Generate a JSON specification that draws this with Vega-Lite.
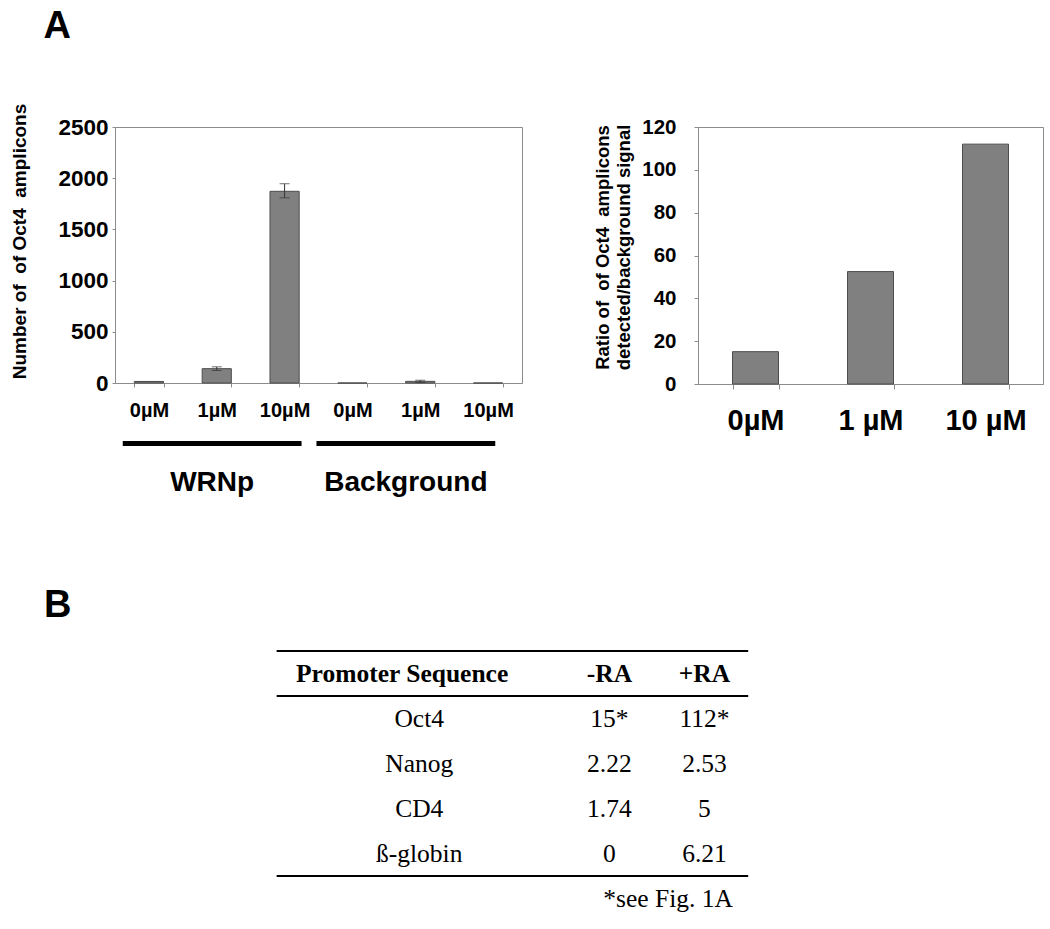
{
  "$schema": "https://vega.github.io/schema/vega-lite/v6.json",
  "background": "white",
  "padding": {"left": 10, "top": 7, "right": 5, "bottom": 5},
  "bounds": "flush",
  "spacing": 524,
  "config": {
    "font": "Liberation Sans",
    "view": {"stroke": "#8c8c8c", "strokeWidth": 1},
    "axis": {
      "labelColor": "black",
      "labelFontWeight": "bold",
      "labelFont": "Liberation Sans",
      "titleColor": "black",
      "titleFontWeight": "bold",
      "titleFont": "Liberation Sans",
      "domainColor": "#8c8c8c",
      "tickColor": "#8c8c8c",
      "grid": false
    }
  },
  "datasets": {
    "amplicons": [
      {"cond": "WRNp|0µM", "group": "WRNp", "dose": "0µM", "value": 15},
      {"cond": "WRNp|1µM", "group": "WRNp", "dose": "1µM", "value": 140, "lo": 122, "hi": 158},
      {"cond": "WRNp|10µM", "group": "WRNp", "dose": "10µM", "value": 1872, "lo": 1808, "hi": 1946},
      {"cond": "Background|0µM", "group": "Background", "dose": "0µM", "value": 0},
      {"cond": "Background|1µM", "group": "Background", "dose": "1µM", "value": 16, "lo": 6, "hi": 27},
      {"cond": "Background|10µM", "group": "Background", "dose": "10µM", "value": 0}
    ],
    "groups": [{"group": "WRNp"}, {"group": "Background"}],
    "ratio": [
      {"dose": "0µM", "ratio": 15.1},
      {"dose": "1 µM", "ratio": 52.5},
      {"dose": "10 µM", "ratio": 112}
    ],
    "table_rules_top": [{"row": "header"}, {"row": "Oct4"}],
    "table_rules_bottom": [{"row": "ß-globin"}],
    "table_header_first": [{"row": "header", "col": "Promoter Sequence", "text": "Promoter Sequence"}],
    "table_header": [
      {"row": "header", "col": "-RA", "text": "-RA"},
      {"row": "header", "col": "+RA", "text": "+RA"}
    ],
    "table_body": [
      {"row": "Oct4", "col": "Promoter Sequence", "text": "Oct4"},
      {"row": "Oct4", "col": "-RA", "text": "15*"},
      {"row": "Oct4", "col": "+RA", "text": "112*"},
      {"row": "Nanog", "col": "Promoter Sequence", "text": "Nanog"},
      {"row": "Nanog", "col": "-RA", "text": "2.22"},
      {"row": "Nanog", "col": "+RA", "text": "2.53"},
      {"row": "CD4", "col": "Promoter Sequence", "text": "CD4"},
      {"row": "CD4", "col": "-RA", "text": "1.74"},
      {"row": "CD4", "col": "+RA", "text": "5"},
      {"row": "ß-globin", "col": "Promoter Sequence", "text": "ß-globin"},
      {"row": "ß-globin", "col": "-RA", "text": "0"},
      {"row": "ß-globin", "col": "+RA", "text": "6.21"}
    ],
    "table_note": [{"row": "note", "text": "*see Fig. 1A"}]
  },
  "vconcat": [
    {
      "title": {"text": "A", "anchor": "start", "fontSize": 38, "fontWeight": "bold", "font": "Liberation Sans", "color": "black", "offset": 57, "dx": 33},
      "bounds": "flush",
      "spacing": 583,
      "hconcat": [
        {
          "bounds": "flush",
          "spacing": 58,
          "vconcat": [
            {
              "width": 407,
              "height": 256,
              "data": {"name": "amplicons"},
              "encoding": {
                "x": {
                  "field": "cond", "type": "nominal", "sort": null,
                  "scale": {"paddingInner": 0.57, "paddingOuter": 0.285},
                  "axis": {"title": null, "labelAngle": 0, "labelFontSize": 20, "labelExpr": "split(datum.label, '|')[1]", "tickBand": "extent", "tickSize": 4, "labelPadding": 13}
                }
              },
              "layer": [
                {
                  "mark": {"type": "bar", "fill": "#808080", "stroke": "#4d4d4d", "strokeWidth": 1},
                  "encoding": {
                    "y": {
                      "field": "value", "type": "quantitative",
                      "scale": {"domain": [0, 2500], "nice": false},
                      "title": "Number of\u00a0 of Oct4\u00a0 amplicons",
                      "axis": {"values": [0, 500, 1000, 1500, 2000, 2500], "format": "d", "labelFontSize": 22.5, "tickSize": 3, "labelPadding": 4, "titleFontSize": 19, "titlePadding": 28, "titleY": 114}
                    }
                  }
                },
                {
                  "mark": {"type": "rule", "color": "#333333", "strokeWidth": 1},
                  "encoding": {
                    "y": {"field": "lo", "type": "quantitative", "title": "Number of\u00a0 of Oct4\u00a0 amplicons"},
                    "y2": {"field": "hi"}
                  }
                },
                {
                  "mark": {"type": "tick", "color": "#333333", "thickness": 1, "size": 10},
                  "encoding": {"y": {"field": "lo", "type": "quantitative", "title": "Number of\u00a0 of Oct4\u00a0 amplicons"}}
                },
                {
                  "mark": {"type": "tick", "color": "#333333", "thickness": 1, "size": 10},
                  "encoding": {"y": {"field": "hi", "type": "quantitative", "title": "Number of\u00a0 of Oct4\u00a0 amplicons"}}
                }
              ]
            },
            {
              "width": 388,
              "height": 5,
              "view": {"stroke": null},
              "data": {"name": "groups"},
              "mark": {"type": "rect", "color": "black"},
              "encoding": {
                "x": {
                  "field": "group", "type": "nominal", "sort": null,
                  "scale": {"paddingInner": 0.077, "paddingOuter": 0.04},
                  "axis": {"title": null, "ticks": false, "tickSize": 0, "domain": false, "labelAngle": 0, "labelFontSize": 28, "labelPadding": 22, "orient": "bottom"}
                }
              }
            }
          ]
        },
        {
          "width": 345,
          "height": 257,
          "data": {"name": "ratio"},
          "mark": {"type": "bar", "fill": "#808080", "stroke": "#4d4d4d", "strokeWidth": 1},
          "encoding": {
            "x": {
              "field": "dose", "type": "nominal", "sort": null,
              "scale": {"paddingInner": 0.6, "paddingOuter": 0.3},
              "axis": {"title": null, "labelAngle": 0, "labelFontSize": 29, "tickBand": "extent", "tickSize": 5, "labelPadding": 17}
            },
            "y": {
              "field": "ratio", "type": "quantitative",
              "scale": {"domain": [0, 120], "nice": false},
              "axis": {"values": [0, 20, 40, 60, 80, 100, 120], "labelFontSize": 20.5, "tickSize": 4, "labelPadding": 18, "title": ["Ratio of\u00a0 of Oct4\u00a0 amplicons", "detected/background signal"], "titleFontSize": 18.5, "titlePadding": 8, "titleLineHeight": 21.5, "titleY": 120}
            }
          }
        }
      ]
    },
    {
      "width": 637,
      "height": 270,
      "view": {"stroke": null},
      "title": {"text": "B", "anchor": "start", "frame": "group", "fontSize": 38, "fontWeight": "bold", "font": "Liberation Sans", "color": "black", "offset": 25, "dx": -71},
      "encoding": {
        "y": {
          "field": "row", "type": "nominal",
          "scale": {"domain": ["header", "Oct4", "Nanog", "CD4", "ß-globin", "note"], "paddingInner": 0, "paddingOuter": 0},
          "axis": null
        }
      },
      "layer": [
        {
          "data": {"name": "table_rules_top"},
          "mark": {"type": "rule", "color": "black", "strokeWidth": 2},
          "encoding": {
            "y": {"field": "row", "type": "nominal", "bandPosition": 0},
            "x": {"datum": "pad", "type": "nominal", "bandPosition": 0,
                  "scale": {"domain": ["pad", "Promoter Sequence", "gap", "-RA", "+RA"], "paddingInner": 0, "paddingOuter": 0.85, "align": 1}, "axis": null},
            "x2": {"datum": "+RA", "bandPosition": 0.96}
          }
        },
        {
          "data": {"name": "table_rules_bottom"},
          "mark": {"type": "rule", "color": "black", "strokeWidth": 2},
          "encoding": {
            "y": {"field": "row", "type": "nominal", "bandPosition": 1},
            "x": {"datum": "pad", "type": "nominal", "bandPosition": 0},
            "x2": {"datum": "+RA", "bandPosition": 0.96}
          }
        },
        {
          "data": {"name": "table_header_first"},
          "mark": {"type": "text", "font": "Liberation Serif", "fontSize": 25.5, "fontWeight": "bold", "color": "black", "baseline": "middle"},
          "encoding": {
            "x": {"field": "col", "type": "nominal", "bandPosition": 0.32},
            "text": {"field": "text"}
          }
        },
        {
          "data": {"name": "table_header"},
          "mark": {"type": "text", "font": "Liberation Serif", "fontSize": 25.5, "fontWeight": "bold", "color": "black", "baseline": "middle"},
          "encoding": {
            "x": {"field": "col", "type": "nominal"},
            "text": {"field": "text"}
          }
        },
        {
          "data": {"name": "table_body"},
          "mark": {"type": "text", "font": "Liberation Serif", "fontSize": 25.5, "color": "black", "baseline": "middle"},
          "encoding": {
            "x": {"field": "col", "type": "nominal"},
            "text": {"field": "text"}
          }
        },
        {
          "data": {"name": "table_note"},
          "mark": {"type": "text", "font": "Liberation Serif", "fontSize": 25.5, "color": "black", "baseline": "middle", "align": "right"},
          "encoding": {
            "x": {"datum": "+RA", "type": "nominal", "bandPosition": 0.8},
            "text": {"field": "text"}
          }
        }
      ]
    }
  ]
}
